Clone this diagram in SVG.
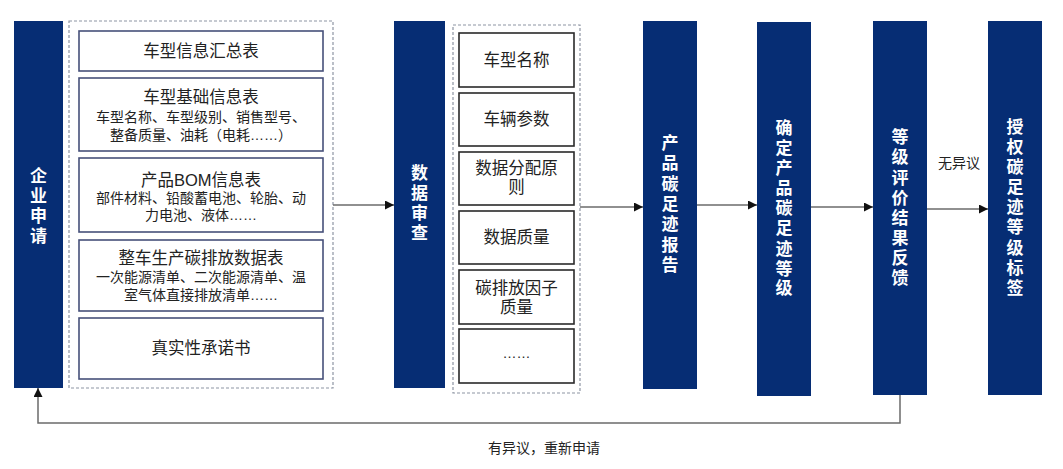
<svg xmlns="http://www.w3.org/2000/svg" width="1063" height="469" viewBox="0 0 1063 469">
<defs>
<style>
.bar{fill:#062d74}
.bt{fill:#fff;font-family:"Liberation Sans","Noto Sans CJK SC",sans-serif;font-size:17px;font-weight:bold;text-anchor:middle}
.dash{fill:none;stroke:#8e95a3;stroke-width:1.2;stroke-dasharray:3,2}
.ib{fill:#fff;stroke:#46507a;stroke-width:1.6}
.ib2{fill:#fff;stroke:#2a2a2a;stroke-width:1.6}
.t{fill:#222;font-family:"Liberation Sans","Noto Sans CJK SC",sans-serif;font-size:16.5px;text-anchor:middle}
.s{fill:#222;font-family:"Liberation Sans","Noto Sans CJK SC",sans-serif;font-size:14px;text-anchor:middle}
.ln{fill:none;stroke:#6b6b6b;stroke-width:1.5}
</style>
<marker id="ah" viewBox="0 0 10 10" refX="10" refY="5" markerWidth="9" markerHeight="9" markerUnits="userSpaceOnUse" orient="auto">
<path d="M0,0 L10,5 L0,10 z" fill="#111"/>
</marker>
</defs>
<rect width="1063" height="469" fill="#fff"/>

<g id="n-apply">
<rect class="bar" x="14" y="21" width="49" height="367"/>
<text class="bt"><tspan x="38.5" y="182">企</tspan><tspan x="38.5" y="202">业</tspan><tspan x="38.5" y="222">申</tspan><tspan x="38.5" y="242">请</tspan></text>
</g>

<g id="n-docs">
<rect class="dash" x="69" y="21" width="264" height="367"/>
<g id="n-doc1"><rect class="ib" x="79" y="31" width="244" height="40"/>
<text class="t" x="201" y="57">车型信息汇总表</text></g>
<g id="n-doc2"><rect class="ib" x="79" y="78" width="244" height="73"/>
<text class="t" x="201" y="103">车型基础信息表</text>
<text class="s" x="201" y="122">车型名称、车型级别、销售型号、</text>
<text class="s" x="201" y="140">整备质量、油耗（电耗……）</text></g>
<g id="n-doc3"><rect class="ib" x="79" y="158" width="244" height="74"/>
<text class="t" x="201" y="186">产品BOM信息表</text>
<text class="s" x="201" y="203">部件材料、铅酸蓄电池、轮胎、动</text>
<text class="s" x="201" y="220">力电池、液体……</text></g>
<g id="n-doc4"><rect class="ib" x="79" y="240" width="244" height="71"/>
<text class="t" x="201" y="264">整车生产碳排放数据表</text>
<text class="s" x="201" y="282">一次能源清单、二次能源清单、温</text>
<text class="s" x="201" y="300">室气体直接排放清单……</text></g>
<g id="n-doc5"><rect class="ib" x="79" y="318" width="244" height="61"/>
<text class="t" x="201" y="354">真实性承诺书</text></g>
</g>

<g id="n-review">
<rect class="bar" x="394" y="21" width="51" height="367"/>
<text class="bt"><tspan x="419.5" y="179">数</tspan><tspan x="419.5" y="199">据</tspan><tspan x="419.5" y="219">审</tspan><tspan x="419.5" y="239">查</tspan></text>
</g>

<g id="n-items">
<rect class="dash" x="453" y="25" width="127" height="368"/>
<g id="n-it1"><rect class="ib2" x="459" y="33" width="115" height="54"/><text class="t" x="516.5" y="66">车型名称</text></g>
<g id="n-it2"><rect class="ib2" x="459" y="93" width="115" height="53"/><text class="t" x="516.5" y="125">车辆参数</text></g>
<g id="n-it3"><rect class="ib2" x="459" y="152" width="115" height="53"/><text class="t" x="516.5" y="174">数据分配原</text><text class="t" x="516.5" y="193">则</text></g>
<g id="n-it4"><rect class="ib2" x="459" y="211" width="115" height="53"/><text class="t" x="516.5" y="243">数据质量</text></g>
<g id="n-it5"><rect class="ib2" x="459" y="270" width="115" height="54"/><text class="t" x="516.5" y="294">碳排放因子</text><text class="t" x="516.5" y="313">质量</text></g>
<g id="n-it6"><rect class="ib2" x="459" y="329" width="115" height="54"/><text class="s" x="516.5" y="358" font-size="11">……</text></g>
</g>

<g id="n-report">
<rect class="bar" x="643" y="21" width="54" height="368"/>
<text class="bt"><tspan x="670" y="149">产</tspan><tspan x="670" y="169">品</tspan><tspan x="670" y="190">碳</tspan><tspan x="670" y="210">足</tspan><tspan x="670" y="230">迹</tspan><tspan x="670" y="251">报</tspan><tspan x="670" y="271">告</tspan></text>
</g>

<g id="n-grade">
<rect class="bar" x="757" y="22" width="54" height="374"/>
<text class="bt"><tspan x="784" y="134">确</tspan><tspan x="784" y="154">定</tspan><tspan x="784" y="174">产</tspan><tspan x="784" y="194">品</tspan><tspan x="784" y="214">碳</tspan><tspan x="784" y="234">足</tspan><tspan x="784" y="255">迹</tspan><tspan x="784" y="275">等</tspan><tspan x="784" y="294">级</tspan></text>
</g>

<g id="n-feedback">
<rect class="bar" x="873" y="21" width="54" height="374"/>
<text class="bt"><tspan x="900" y="143">等</tspan><tspan x="900" y="163">级</tspan><tspan x="900" y="184">评</tspan><tspan x="900" y="204">价</tspan><tspan x="900" y="224">结</tspan><tspan x="900" y="244">果</tspan><tspan x="900" y="264">反</tspan><tspan x="900" y="284">馈</tspan></text>
</g>

<g id="n-label">
<rect class="bar" x="988" y="21" width="54" height="374"/>
<text class="bt"><tspan x="1015" y="133">授</tspan><tspan x="1015" y="153">权</tspan><tspan x="1015" y="173">碳</tspan><tspan x="1015" y="193">足</tspan><tspan x="1015" y="213">迹</tspan><tspan x="1015" y="233">等</tspan><tspan x="1015" y="254">级</tspan><tspan x="1015" y="274">标</tspan><tspan x="1015" y="294">签</tspan></text>
</g>

<g id="connectors">
<line class="ln" x1="333" y1="205" x2="394" y2="205" marker-end="url(#ah)"/>
<line class="ln" x1="580" y1="207" x2="643" y2="207" marker-end="url(#ah)"/>
<line class="ln" x1="697" y1="205" x2="757" y2="205" marker-end="url(#ah)"/>
<line class="ln" x1="811" y1="207" x2="873" y2="207" marker-end="url(#ah)"/>
<line class="ln" x1="927" y1="209" x2="988" y2="209" marker-end="url(#ah)"/>
<polyline class="ln" points="900,395 900,423 38,423 38,388" marker-end="url(#ah)"/>
<text class="s" x="959" y="168">无异议</text>
<text class="s" x="544" y="453">有异议，重新申请</text>
</g>
</svg>
